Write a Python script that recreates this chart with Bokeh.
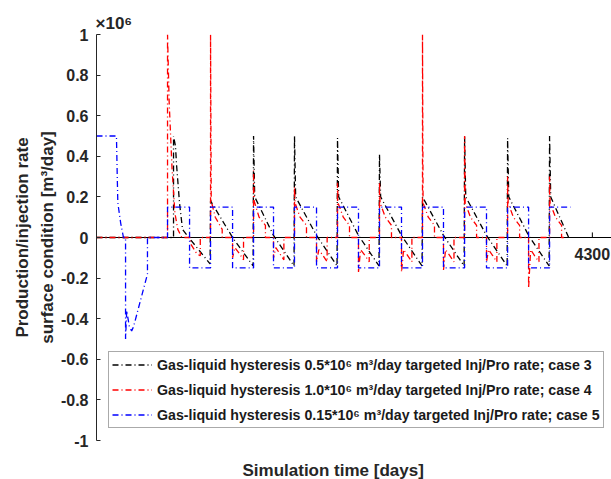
import math
from bokeh.plotting import figure
from bokeh.models import Span, Label, FixedTicker, Range1d, Title
from bokeh.embed import file_html
from bokeh.resources import INLINE

# ---------------- data (days, rate in 1e6 m3/day) ----------------
black_x = [0, 668, 668, 685, 694, 720, 746, 800, 985,
           989, 1180, 1358,
           1362, 1372, 1535, 1713,
           1717, 1727, 1908, 2086,
           2090, 2100, 2272, 2450,
           2454, 2464, 2645, 2823,
           2827, 3009, 3188,
           3192, 3202, 3382, 3561,
           3565, 3575, 3747, 3925,
           3929, 3939, 4095]
black_y = [0, 0, 0.5, 0.45, 0.36, 0.17, 0.04, 0, -0.13,
           0.18, 0, -0.14,
           0.5, 0.2, 0.01, -0.14,
           0.5, 0.2, 0.01, -0.14,
           0.49, 0.2, 0.01, -0.14,
           0.41, 0.2, 0.01, -0.14,
           0.2, 0.01, -0.14,
           0.5, 0.2, 0.01, -0.14,
           0.49, 0.2, 0.01, -0.14,
           0.5, 0.2, 0]

red_x = [0, 616, 616, 630, 655, 680, 705, 740, 815, 815, 870, 900, 900, 989,
         989, 995, 1030, 1090, 1090, 1180, 1180, 1200, 1240, 1275, 1275, 1362,
         1362, 1367, 1410, 1465, 1465, 1535, 1535, 1555, 1590, 1625, 1625, 1717,
         1717, 1722, 1765, 1821, 1821, 1908, 1908, 1928, 1965, 2000, 2000, 2090,
         2090, 2095, 2140, 2194, 2194, 2272, 2272, 2290, 2330, 2365, 2365, 2454,
         2454, 2459, 2505, 2558, 2558, 2645, 2645, 2663, 2700, 2735, 2735, 2827,
         2827, 2832, 2877, 2931, 2931, 3009, 3009, 3027, 3065, 3100, 3100, 3192,
         3192, 3197, 3243, 3296, 3296, 3382, 3382, 3400, 3437, 3472, 3472, 3565,
         3565, 3570, 3615, 3669, 3669, 3747, 3747, 3765, 3800, 3837, 3837, 3929,
         3929, 3934, 3980, 4033, 4033, 4075]
red_y = [0, 0, 1.0, 0.67, 0.34, 0.12, 0.04, 0, 0, -0.03, -0.08, -0.09, 0, 0,
         1.0, 0.18, 0.1, 0.04, 0, 0, -0.1, -0.05, -0.08, -0.11, 0, 0,
         0.33, 0.18, 0.1, 0.06, 0, 0, -0.1, -0.05, -0.08, -0.11, 0, 0,
         0.25, 0.17, 0.1, 0.06, 0, 0, -0.12, -0.06, -0.09, -0.12, 0, 0,
         0.27, 0.17, 0.1, 0.06, 0, 0, -0.17, -0.06, -0.09, -0.12, 0, 0,
         0.27, 0.17, 0.1, 0.06, 0, 0, -0.17, -0.06, -0.09, -0.12, 0, 0,
         1.0, 0.17, 0.1, 0.06, 0, 0, -0.16, -0.06, -0.09, -0.12, 0, 0,
         0.5, 0.17, 0.1, 0.06, 0, 0, -0.12, -0.06, -0.09, -0.12, 0, 0,
         0.3, 0.17, 0.1, 0.06, 0, 0, -0.25, -0.06, -0.09, -0.12, 0, 0,
         0.3, 0.17, 0.1, 0.06, 0, 0]

blue_x = [0, 173, 180, 185, 210, 234, 252, 252, 262, 285, 305, 321, 442, 442,
          616, 616, 807, 807, 989, 989, 1180, 1180, 1362, 1362, 1535, 1535,
          1717, 1717, 1908, 1908, 2090, 2090, 2272, 2272, 2454, 2454, 2645, 2645,
          2827, 2827, 3009, 3009, 3192, 3192, 3382, 3382, 3565, 3565, 3747, 3747,
          3929, 3929, 4111]
blue_y = [0.5, 0.5, 0.3, 0.17, 0.07, 0, 0, -0.5, -0.36, -0.44, -0.46, -0.44, -0.18, 0,
          0, 0.15, 0.15, -0.15, -0.15, 0.15, 0.15, -0.15, -0.15, 0.15, 0.15, -0.15,
          -0.15, 0.15, 0.15, -0.15, -0.15, 0.15, 0.15, -0.15, -0.15, 0.15, 0.15, -0.15,
          -0.15, 0.15, 0.15, -0.15, -0.15, 0.15, 0.15, -0.15, -0.15, 0.15, 0.15, -0.15,
          -0.15, 0.15, 0.15]

assert len(black_x) == len(black_y)
assert len(red_x) == len(red_y)
assert len(blue_x) == len(blue_y)

series_labels = [
    "Gas-liquid hysteresis 0.5*10\u2076 m\u00b3/day targeted Inj/Pro rate; case 3",
    "Gas-liquid hysteresis 1.0*10\u2076 m\u00b3/day targeted Inj/Pro rate; case 4",
    "Gas-liquid hysteresis 0.15*10\u2076 m\u00b3/day targeted Inj/Pro rate; case 5",
]

y_ticks = [-1, -0.8, -0.6, -0.4, -0.2, 0, 0.2, 0.4, 0.6, 0.8, 1]
y_tick_labels = ["-1", "-0.8", "-0.6", "-0.4", "-0.2", "0", "0.2", "0.4", "0.6", "0.8", "1"]
x_tick_values = [4300]
x_tick_labels = ["4300"]

FONT = "Liberation Sans"
TXT = "#262626"

p = figure(width=611, height=479, output_backend="svg", toolbar_location=None,
           x_range=Range1d(0, 4466), y_range=Range1d(-1, 1),
           min_border_left=96, min_border_right=0, min_border_top=34,
           min_border_bottom=38)
p.xaxis.visible = False
p.grid.visible = False
p.outline_line_color = None
p.background_fill_color = "white"

ya = p.yaxis[0]
ya.ticker = FixedTicker(ticks=y_ticks)
ya.major_label_overrides = dict(zip(y_ticks, y_tick_labels))
ya.major_tick_in = 4
ya.major_tick_out = 0
ya.minor_tick_in = 0
ya.minor_tick_out = 0
ya.axis_line_color = "#262626"
ya.major_tick_line_color = "#262626"
ya.major_label_text_font = FONT
ya.major_label_text_font_style = "bold"
ya.major_label_text_font_size = "16px"
ya.major_label_text_color = TXT
ya.major_label_standoff = 8

zero = Span(location=0, dimension="width", line_color="black", line_width=1, level="underlay")
p.add_layout(zero)

# x tick at 4300 on the zero line
p.segment(x0=x_tick_values, y0=[0] * len(x_tick_values), x1=x_tick_values,
          y1=[0.025] * len(x_tick_values), line_color="black", line_width=1)
for xv, lab in zip(x_tick_values, x_tick_labels):
    p.add_layout(Label(x=xv, y=-0.083, text=lab, text_align="center", text_baseline="middle",
                       text_font=FONT, text_font_style="bold", text_font_size="16px",
                       text_color=TXT))

dash = "6 3 1 3"
p.line(black_x, black_y, line_color="black", line_width=1.3, line_dash=dash,
       legend_label=series_labels[0])
p.line(red_x, red_y, line_color="#ff0000", line_width=1.3, line_dash=dash,
       legend_label=series_labels[1])
p.line(blue_x, blue_y, line_color="#0000ff", line_width=1.3, line_dash=dash,
       legend_label=series_labels[2])

lg = p.legend[0]
lg.location = (12, 12)
lg.label_text_font = FONT
lg.label_text_font_style = "bold"
lg.label_text_font_size = "14.2px"
lg.label_text_color = "#1a1a1a"
lg.glyph_width = 40
lg.glyph_height = 19
lg.label_height = 19
lg.label_standoff = 5
lg.spacing = 6
lg.padding = 3
lg.margin = 0
lg.border_line_color = "#555555"
lg.border_line_width = 1
lg.background_fill_color = "white"
lg.background_fill_alpha = 1

# exponent marker as the plot title
p.title.text = "\u00d710\u2076"
p.title.align = "left"
p.title.offset = -1
p.title.standoff = 3
p.title.text_font = FONT
p.title.text_font_style = "bold"
p.title.text_font_size = "17px"
p.title.text_color = TXT

# y axis title (two lines), nearest first
p.add_layout(Title(text="surface condition [m\u00b3/day]", align="center", standoff=2,
                   text_font=FONT, text_font_style="bold", text_font_size="17px",
                   text_color=TXT), "left")
p.add_layout(Title(text="Production/injection rate", align="center", standoff=6,
                   text_font=FONT, text_font_style="bold", text_font_size="17px",
                   text_color=TXT), "left")

# x axis title, pushed down by an empty spacer title
p.add_layout(Title(text=" ", align="left", standoff=0, text_font=FONT,
                   text_font_size="14px", text_color="white"), "below")
p.add_layout(Title(text="Simulation time [days]", align="left", offset=146, standoff=0,
                   text_font=FONT, text_font_style="bold", text_font_size="17px",
                   text_color=TXT), "below")

open("out.html", "w").write(file_html(p, INLINE))
